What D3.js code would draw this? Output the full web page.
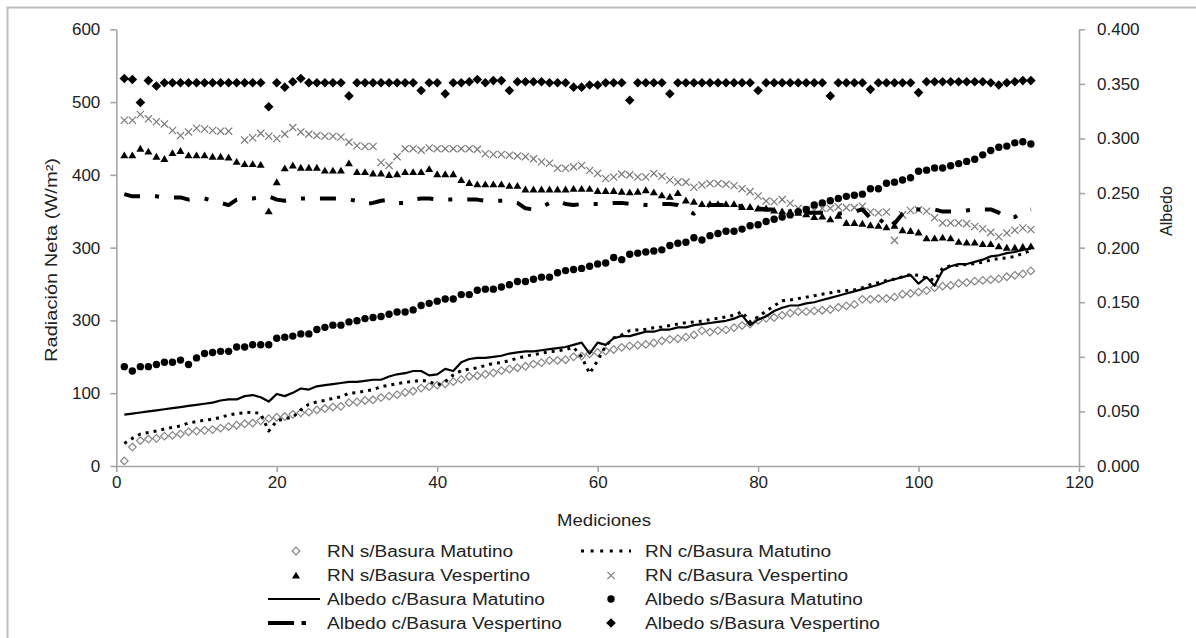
<!DOCTYPE html>
<html><head><meta charset="utf-8">
<script src="https://cdn.jsdelivr.net/npm/d3@7"></script>
<style>
body{margin:0;background:#fff;}
text{font-family:"Liberation Sans",Arial,Helvetica,sans-serif;}
</style></head><body>
<svg id="chart" width="1196" height="638"></svg>
<script>
// ---------- DATA ----------
const mediciones = d3.range(1, 115);
const xTicks = [0, 20, 40, 60, 80, 100, 120];
const yLeftTicks = [0, 100, 200, 300, 400, 500, 600];
const yLeftTickLabels = ["0", "100", "300", "300", "400", "500", "600"];
const yRightTicks = [0, 0.05, 0.1, 0.15, 0.2, 0.25, 0.3, 0.35, 0.4];

const rnSinBasuraMatutino = [7,26,35,37,38,41,42,44,47,48,
 49,50,52,54,56,58,59,62,65,67,
 68,71,73,74,77,79,81,82,87,88,
 90,91,94,96,98,101,103,107,109,111,
 113,116,119,123,124,126,128,131,133,135,
 137,140,142,145,145,146,150,151,154,156,
 158,160,163,165,166,167,169,172,174,175,
 177,180,186,184,186,187,190,193,195,200,
 203,204,207,210,212,212,213,214,215,218,
 220,222,229,229,230,230,232,236,237,239,
 241,245,247,248,251,252,254,255,256,257,
 260,262,264,268];

const rnConBasuraMatutino = [31,38,44,46,48,51,53,55,59,61,
 63,64,67,70,72,73,74,72,48,62,
 65,67,77,85,88,90,93,95,100,101,
 103,105,109,111,113,115,116,118,116,111,
 116,125,131,133,135,138,141,142,145,148,
 151,153,155,157,158,160,163,150,127,145,
 165,176,180,186,187,188,190,191,193,195,
 197,198,199,201,203,205,207,212,198,205,
 213,220,227,228,230,232,234,236,238,240,
 241,242,245,249,252,255,257,260,263,262,
 258,255,272,275,276,277,278,280,283,285,
 286,288,292,296];

const rnSinBasuraVespertino = [427,427,436,432,425,422,430,433,427,427,
 427,425,425,424,418,415,415,414,350,390,
 409,413,410,410,410,406,406,406,416,404,
 404,402,402,400,401,404,404,404,408,401,
 401,401,393,389,387,387,387,387,385,385,
 380,380,380,380,380,380,381,381,381,378,
 378,378,377,376,377,379,376,372,370,375,
 365,363,360,360,360,360,360,356,356,354,
 354,351,350,349,348,346,342,343,339,344,
 334,334,333,331,330,328,330,324,323,321,
 313,313,314,313,308,307,307,305,305,302,
 300,300,301,302];

const rnConBasuraVespertino = [475,475,483,477,473,470,461,454,459,464,
 463,461,460,460,null,448,451,457,453,450,
 456,465,459,456,454,453,453,452,445,440,
 439,439,417,413,425,436,436,434,437,436,
 436,436,436,436,435,429,428,428,427,426,
 425,422,418,416,409,409,411,413,406,402,
 395,397,401,400,397,397,402,398,393,390,
 390,383,386,388,388,387,385,381,377,371,
 364,363,366,361,354,352,351,354,354,356,
 355,355,357,349,348,349,310,345,351,352,
 350,341,334,334,334,333,329,326,321,315,
 320,324,327,325];

const albedoConBasuraMatutino = [0.047,0.048,0.049,0.050,0.051,0.052,0.053,0.054,0.055,0.056,
 0.057,0.058,0.060,0.061,0.061,0.064,0.065,0.063,0.059,0.066,
 0.064,0.067,0.071,0.070,0.073,0.074,0.075,0.076,0.077,0.077,
 0.078,0.079,0.079,0.082,0.084,0.085,0.087,0.087,0.083,0.084,
 0.089,0.087,0.095,0.098,0.099,0.099,0.100,0.101,0.103,0.104,
 0.105,0.105,0.106,0.107,0.108,0.109,0.111,0.113,0.103,0.113,
 0.111,0.117,0.119,0.119,0.121,0.123,0.123,0.125,0.125,0.127,
 0.127,0.129,0.130,0.131,0.132,0.133,0.135,0.138,0.129,0.134,
 0.137,0.142,0.145,0.147,0.147,0.149,0.150,0.152,0.154,0.156,
 0.158,0.160,0.162,0.164,0.166,0.169,0.171,0.173,0.175,0.167,
 0.173,0.165,0.179,0.183,0.185,0.185,0.187,0.189,0.192,0.193,
 0.195,0.196,0.198,0.199];

const albedoSinBasuraMatutino = [0.091,0.087,0.091,0.091,0.093,0.095,0.095,0.097,0.093,0.099,
 0.103,0.104,0.105,0.105,0.109,0.109,0.111,0.111,0.111,0.117,
 0.118,0.119,0.121,0.121,0.125,0.127,0.129,0.129,0.132,0.133,
 0.135,0.136,0.137,0.139,0.141,0.141,0.143,0.147,0.149,0.151,
 0.153,0.153,0.157,0.157,0.161,0.162,0.162,0.164,0.166,0.169,
 0.169,0.171,0.173,0.173,0.177,0.179,0.180,0.181,0.183,0.185,
 0.186,0.191,0.189,0.194,0.195,0.196,0.197,0.198,0.202,0.204,
 0.205,0.209,0.207,0.211,0.213,0.215,0.215,0.217,0.220,0.221,
 0.224,0.226,0.228,0.230,0.233,0.235,0.239,0.241,0.243,0.245,
 0.247,0.248,0.249,0.254,0.254,0.259,0.260,0.262,0.264,0.270,
 0.271,0.273,0.273,0.275,0.277,0.279,0.281,0.285,0.289,0.292,
 0.293,0.296,0.297,0.295];

const albedoConBasuraVespertino = [0.249,0.247,0.247,0.247,0.247,0.246,0.246,0.246,0.244,0.245,
 0.245,0.243,0.241,0.239,0.244,0.245,0.245,0.246,0.247,0.244,
 0.243,0.244,0.245,0.245,0.245,0.245,0.245,0.245,0.244,0.243,
 0.240,0.241,0.243,0.244,0.241,0.241,0.244,0.245,0.245,0.244,
 0.244,0.244,0.244,0.244,0.244,0.243,0.243,0.243,0.243,0.241,
 0.236,0.235,0.237,0.241,0.243,0.240,0.239,0.240,0.240,0.240,
 0.240,0.241,0.241,0.240,0.240,0.239,0.239,0.240,0.240,0.239,
 0.235,0.231,0.237,0.239,0.239,0.239,0.239,0.238,0.237,0.236,
 0.235,0.235,0.234,0.233,0.233,0.232,0.232,0.232,0.231,0.231,
 0.232,0.233,0.235,0.227,0.221,0.230,0.222,0.231,0.236,0.235,
 0.235,0.235,0.233,0.233,0.233,0.234,0.235,0.235,0.235,0.232,
 0.227,0.228,0.233,0.235];

const albedoSinBasuraVespertino = [0.355,0.354,0.333,0.353,0.348,0.351,0.351,0.351,0.351,0.351,
 0.351,0.351,0.351,0.351,0.351,0.351,0.351,0.351,0.329,0.351,
 0.347,0.352,0.355,0.351,0.351,0.351,0.351,0.351,0.339,0.351,
 0.351,0.351,0.351,0.351,0.351,0.351,0.351,0.344,0.351,0.351,
 0.341,0.351,0.351,0.352,0.354,0.351,0.353,0.353,0.344,0.352,
 0.352,0.352,0.352,0.351,0.351,0.351,0.347,0.347,0.349,0.349,
 0.351,0.351,0.351,0.335,0.351,0.351,0.351,0.351,0.341,0.351,
 0.351,0.351,0.351,0.351,0.351,0.351,0.351,0.351,0.351,0.344,
 0.351,0.351,0.351,0.351,0.351,0.351,0.351,0.351,0.339,0.351,
 0.351,0.351,0.351,0.345,0.351,0.351,0.351,0.351,0.351,0.342,
 0.352,0.352,0.352,0.352,0.352,0.352,0.352,0.352,0.351,0.349,
 0.351,0.352,0.353,0.353];

const legendLabels = ["RN s/Basura Matutino", "RN c/Basura Matutino",
  "RN s/Basura Vespertino", "RN c/Basura Vespertino",
  "Albedo c/Basura Matutino", "Albedo s/Basura Matutino",
  "Albedo c/Basura Vespertino", "Albedo s/Basura Vespertino"];

// ---------- CHART ----------
const svg = d3.select("#chart");
svg.append("rect").attr("width", 1196).attr("height", 638).attr("fill", "#fff");
svg.append("rect").attr("x", 7.5).attr("y", 7.5).attr("width", 1300).attr("height", 800)
  .attr("fill", "none").attr("stroke", "#bdbdbd").attr("stroke-width", 2);

const x = d3.scaleLinear().domain([0, 120]).range([116.3, 1079]);
const yL = d3.scaleLinear().domain([0, 600]).range([466, 29.3]);
const yR = d3.scaleLinear().domain([0, 0.4]).range([466, 29.3]);

const axisColor = "#a6a6a6";
function styleAxis(g) {
  g.selectAll("path.domain").attr("stroke", axisColor).attr("stroke-width", 1.6);
  g.selectAll(".tick line").attr("stroke", axisColor).attr("stroke-width", 1.6);
  g.selectAll(".tick text").attr("fill", "#222").style("font-size", "17px")
    .style("font-family", '"Liberation Sans", Arial, sans-serif');
}
const gx = svg.append("g").attr("transform", `translate(0,${yL(0)})`)
  .call(d3.axisBottom(x).tickValues(xTicks).tickSize(6).tickSizeOuter(0).tickPadding(4));
styleAxis(gx);
const gyl = svg.append("g").attr("transform", `translate(${x(0)},0)`)
  .call(d3.axisLeft(yL).tickValues(yLeftTicks).tickSize(6).tickSizeOuter(0).tickPadding(10)
    .tickFormat((d, i) => yLeftTickLabels[i]));
styleAxis(gyl);
const gyr = svg.append("g").attr("transform", `translate(${x(120)},0)`)
  .call(d3.axisRight(yR).tickValues(yRightTicks).tickSize(6).tickSizeOuter(0).tickPadding(12)
    .tickFormat(d3.format(".3f")));
styleAxis(gyr);

// axis titles
svg.append("text").attr("transform", "translate(57,260) rotate(-90)")
  .attr("text-anchor", "middle").attr("fill", "#222").style("font-size", "16px")
  .attr("textLength", 204).attr("lengthAdjust", "spacingAndGlyphs")
  .text("Radiación Neta (W/m²)");
svg.append("text").attr("transform", "translate(1172,211) rotate(-90)")
  .attr("text-anchor", "middle").attr("fill", "#222").style("font-size", "16px")
  .text("Albedo");
svg.append("text").attr("x", 604).attr("y", 526)
  .attr("text-anchor", "middle").attr("fill", "#222").style("font-size", "16px")
  .attr("textLength", 94).attr("lengthAdjust", "spacingAndGlyphs")
  .text("Mediciones");

// marker shapes
const shapes = {
  diamond: r => `M0,${-r}L${r},0L0,${r}L${-r},0Z`,
  triangle: r => `M0,${-r}L${r * 1.05},${r * 0.8}L${-r * 1.05},${r * 0.8}Z`,
  cross: r => `M${-r},${-r}L${r},${r}M${-r},${r}L${r},${-r}`
};

function toPts(vals) { return mediciones.map((m, i) => ({ m, v: vals[i] })); }

function drawLine(vals, yScale, style) {
  const line = d3.line().defined(d => d.v != null).x(d => x(d.m)).y(d => yScale(d.v));
  svg.append("path").datum(toPts(vals)).attr("d", line)
    .attr("fill", "none").attr("stroke", "#000")
    .attr("stroke-width", style.width).attr("stroke-dasharray", style.dash || null)
    .attr("stroke-linejoin", "round");
}
function drawMarkers(vals, yScale, m) {
  const g = svg.append("g");
  const pts = toPts(vals).filter(d => d.v != null);
  if (m.type === "circle") {
    g.selectAll("circle").data(pts).join("circle")
      .attr("cx", d => x(d.m)).attr("cy", d => yScale(d.v)).attr("r", m.r)
      .attr("fill", m.fill);
  } else {
    g.selectAll("path").data(pts).join("path")
      .attr("transform", d => `translate(${x(d.m)},${yScale(d.v)})`)
      .attr("d", shapes[m.type](m.r))
      .attr("fill", m.fill).attr("stroke", m.stroke || "none")
      .attr("stroke-width", m.sw || 0);
  }
}

const mkOpenDiamond = { type: "diamond", r: 3.8, fill: "#fff", stroke: "#858585", sw: 1.2 };
const mkTriangle = { type: "triangle", r: 3.8, fill: "#000" };
const mkCross = { type: "cross", r: 3.6, fill: "none", stroke: "#7a7a7a", sw: 1.2 };
const mkCircle = { type: "circle", r: 3.7, fill: "#000" };
const mkDiamond = { type: "diamond", r: 4.8, fill: "#000" };
const dotted = { width: 3, dash: "3,5" };
const solid = { width: 2.2 };
const dashDot = { width: 4, dash: "16,15,4,15" };

drawMarkers(rnSinBasuraMatutino, yL, mkOpenDiamond);
drawLine(rnConBasuraMatutino, yL, dotted);
drawMarkers(rnSinBasuraVespertino, yL, mkTriangle);
drawMarkers(rnConBasuraVespertino, yL, mkCross);
drawLine(albedoConBasuraMatutino, yR, solid);
drawMarkers(albedoSinBasuraMatutino, yR, mkCircle);
drawLine(albedoConBasuraVespertino, yR, dashDot);
drawMarkers(albedoSinBasuraVespertino, yR, mkDiamond);

// legend
const rowsY = [551, 575.5, 599, 623];
const col = [{ sym: 296, x0: 268, x1: 320, tx: 327 }, { sym: 611, x0: 581, x1: 631, tx: 645 }];
const legendItems = [
  { kind: "marker", m: mkOpenDiamond },
  { kind: "line", s: { width: 3, dash: "3,6.6" } },
  { kind: "marker", m: mkTriangle },
  { kind: "marker", m: mkCross },
  { kind: "line", s: solid },
  { kind: "marker", m: mkCircle },
  { kind: "line", s: { width: 4, dash: "26,7.5,4.5,14,4.5" } },
  { kind: "marker", m: mkDiamond }
];
legendItems.forEach((it, i) => {
  const c = col[i % 2], yy = rowsY[Math.floor(i / 2)];
  if (it.kind === "line") {
    svg.append("line").attr("x1", c.x0).attr("x2", c.x1).attr("y1", yy).attr("y2", yy)
      .attr("stroke", "#000").attr("stroke-width", it.s.width)
      .attr("stroke-dasharray", it.s.dash || null);
  } else if (it.m.type === "circle") {
    svg.append("circle").attr("cx", c.sym).attr("cy", yy).attr("r", it.m.r).attr("fill", it.m.fill);
  } else {
    svg.append("path").attr("transform", `translate(${c.sym},${yy})`)
      .attr("d", shapes[it.m.type](it.m.r)).attr("fill", it.m.fill)
      .attr("stroke", it.m.stroke || "none").attr("stroke-width", it.m.sw || 0);
  }
  svg.append("text").attr("transform", `translate(${c.tx},${yy + 5.7}) scale(1.19,1)`)
    .attr("fill", "#222").style("font-size", "16px").text(legendLabels[i]);
});
</script>
</body></html>
